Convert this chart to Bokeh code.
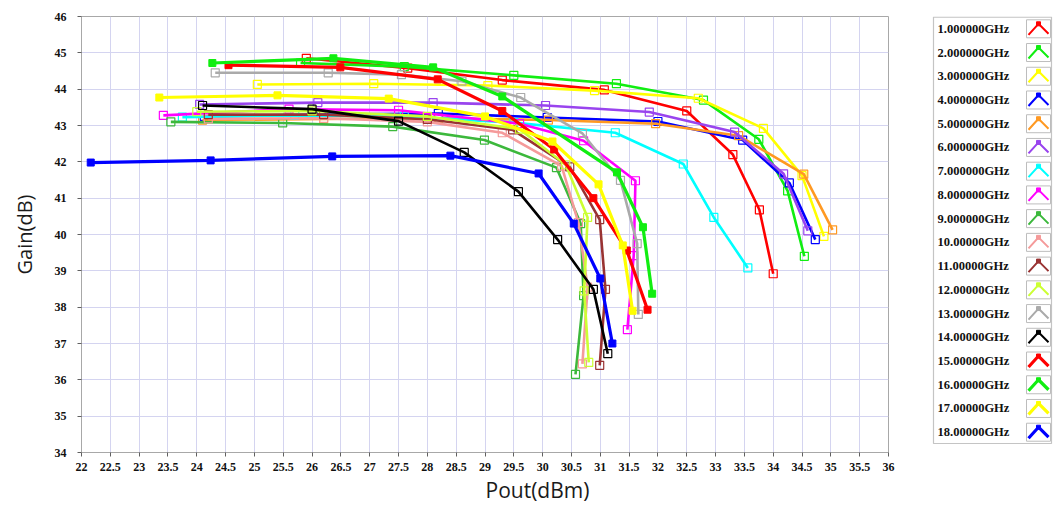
from bokeh.plotting import figure
from bokeh.models import Range1d, FixedTicker, Title
from bokeh.layouts import row
from bokeh.embed import file_html
from bokeh.resources import INLINE
from bokeh.core.properties import value

# ---------------- data ----------------
freq_labels = ["1.000000GHz", "2.000000GHz", "3.000000GHz", "4.000000GHz",
               "5.000000GHz", "6.000000GHz", "7.000000GHz", "8.000000GHz",
               "9.000000GHz", "10.00000GHz", "11.00000GHz", "12.00000GHz",
               "13.00000GHz", "14.00000GHz", "15.00000GHz", "16.00000GHz",
               "17.00000GHz", "18.00000GHz"]

series_colors = ["#ff0000", "#11ee11", "#ffff00", "#0000ff", "#ff9922", "#9944ee",
                 "#00ffff", "#ff00ff", "#3cb83c", "#f59a9a", "#993333", "#ccff33",
                 "#aaaaaa", "#000000", "#ff0000", "#11ee11", "#ffff00", "#0000ff"]

filled_markers = [False] * 14 + [True] * 4

pout_01 = [25.9, 27.66, 29.3, 31.07, 32.5, 33.3, 33.76, 34.0]
gain_01 = [44.85, 44.58, 44.25, 43.98, 43.4, 42.2, 40.68, 38.92]
pout_02 = [25.8, 27.6, 29.5, 31.28, 32.79, 33.75, 34.25, 34.54]
gain_02 = [44.72, 44.62, 44.38, 44.15, 43.7, 42.62, 41.2, 39.4]
pout_03 = [25.05, 27.07, 29.05, 30.9, 32.7, 33.83, 34.5, 34.88]
gain_03 = [44.13, 44.15, 44.1, 43.96, 43.75, 42.92, 41.62, 39.95]
pout_04 = [24.13, 26.16, 28.19, 30.08, 32.0, 33.47, 34.28, 34.73]
gain_04 = [43.25, 43.3, 43.33, 43.22, 43.11, 42.6, 41.42, 39.86]
pout_05 = [24.1, 26.2, 28.2, 30.1, 31.96, 33.4, 34.53, 35.03]
gain_05 = [43.15, 43.18, 43.2, 43.15, 43.05, 42.72, 41.66, 40.13]
pout_06 = [24.05, 26.1, 28.1, 30.05, 31.85, 33.33, 34.18, 34.6]
gain_06 = [43.58, 43.63, 43.63, 43.55, 43.37, 42.82, 41.67, 40.1]
pout_07 = [23.75, 25.7, 27.6, 29.5, 31.26, 32.44, 32.97, 33.56]
gain_07 = [43.23, 43.28, 43.25, 43.08, 42.8, 41.94, 40.47, 39.08]
pout_08 = [23.42, 25.6, 27.5, 29.6, 30.71, 31.61, 31.58, 31.47]
gain_08 = [43.28, 43.45, 43.42, 43.05, 42.58, 41.48, 39.42, 37.38]
pout_09 = [23.55, 25.49, 27.4, 28.99, 30.24, 30.66, 30.71, 30.57]
gain_09 = [43.1, 43.07, 42.97, 42.6, 41.84, 40.3, 38.32, 36.15]
pout_10 = [24.2, 26.2, 28.0, 29.3, 30.33, 30.62, 30.78, 30.69]
gain_10 = [43.18, 43.2, 43.1, 42.8, 41.88, 40.33, 38.55, 36.44]
pout_11 = [24.2, 26.2, 28.0, 29.48, 30.47, 30.99, 31.09, 30.99]
gain_11 = [43.3, 43.3, 43.17, 42.88, 41.86, 40.41, 38.49, 36.4]
pout_12 = [24.0, 26.0, 28.0, 29.6, 30.4, 30.78, 30.72, 30.8]
gain_12 = [43.38, 43.4, 43.25, 42.9, 41.92, 40.47, 38.45, 36.48]
pout_13 = [24.32, 26.28, 27.55, 28.6, 29.62, 30.69, 31.35, 31.64, 31.66]
gain_13 = [44.45, 44.45, 44.4, 44.22, 43.77, 42.78, 41.49, 39.75, 37.8]
pout_14 = [24.1, 26.0, 27.5, 28.64, 29.58, 30.26, 30.88, 31.13]
gain_14 = [43.55, 43.45, 43.12, 42.26, 41.18, 39.86, 38.49, 36.72]
pout_15 = [24.55, 26.49, 28.18, 29.3, 30.2, 30.88, 31.46, 31.82]
gain_15 = [44.66, 44.6, 44.27, 43.4, 42.34, 41.0, 39.56, 37.93]
pout_16 = [24.27, 26.37, 28.1, 29.3, 31.29, 31.74, 31.9]
gain_16 = [44.72, 44.85, 44.6, 43.8, 41.71, 40.2, 38.37]
pout_17 = [23.35, 25.4, 27.33, 29.0, 30.17, 30.97, 31.39, 31.56]
gain_17 = [43.77, 43.83, 43.74, 43.25, 42.56, 41.38, 39.7, 37.9]
pout_18 = [22.16, 24.24, 26.35, 28.4, 29.93, 30.54, 31.0, 31.21]
gain_18 = [41.98, 42.04, 42.15, 42.17, 41.68, 40.3, 38.79, 37.0]

pout_series = [pout_01, pout_02, pout_03, pout_04, pout_05, pout_06, pout_07, pout_08, pout_09,
               pout_10, pout_11, pout_12, pout_13, pout_14, pout_15, pout_16, pout_17, pout_18]
gain_series = [gain_01, gain_02, gain_03, gain_04, gain_05, gain_06, gain_07, gain_08, gain_09,
               gain_10, gain_11, gain_12, gain_13, gain_14, gain_15, gain_16, gain_17, gain_18]

x_ticks = [22, 22.5, 23, 23.5, 24, 24.5, 25, 25.5, 26, 26.5, 27, 27.5, 28, 28.5, 29,
           29.5, 30, 30.5, 31, 31.5, 32, 32.5, 33, 33.5, 34, 34.5, 35, 35.5, 36]
x_tick_labels = ["22", "22.5", "23", "23.5", "24", "24.5", "25", "25.5", "26", "26.5",
                 "27", "27.5", "28", "28.5", "29", "29.5", "30", "30.5", "31", "31.5",
                 "32", "32.5", "33", "33.5", "34", "34.5", "35", "35.5", "36"]
y_ticks = [34, 35, 36, 37, 38, 39, 40, 41, 42, 43, 44, 45, 46]

TICK_FONT = "Liberation Serif"
LABEL_FONT = "Open Sans"
GRID = "#d4d4f0"
FRAME = "#a8a8a8"

# ---------------- layout (pixels) ----------------
MW, H = 920, 506
FL, FT, FR, FB = 81, 16, 888, 452          # frame edges in screen px

# ---------------- main plot ----------------
p = figure(width=MW, height=H, x_range=Range1d(22, 36), y_range=Range1d(34, 46),
           output_backend="svg", toolbar_location=None,
           min_border_left=FL, min_border_right=MW - FR, min_border_top=FT,
           min_border_bottom=H - FB)
p.background_fill_color = "white"
p.border_fill_color = "white"
p.outline_line_color = FRAME

p.xaxis.ticker = FixedTicker(ticks=x_ticks)
p.xaxis.major_label_overrides = {float(t): s for t, s in zip(x_ticks, x_tick_labels)}
p.yaxis.ticker = FixedTicker(ticks=y_ticks)

for ax in (p.xaxis, p.yaxis):
    ax.axis_line_color = FRAME
    ax.major_tick_line_color = "#606060"
    ax.major_tick_out = 4
    ax.major_tick_in = 0
    ax.minor_tick_line_color = None
    ax.major_label_text_font = TICK_FONT
    ax.major_label_text_font_style = "bold"
    ax.major_label_text_font_size = "12px"
    ax.major_label_text_color = "#111111"
    ax.axis_label_text_font = LABEL_FONT
    ax.axis_label_text_font_style = "normal"
    ax.axis_label_text_font_size = "20px"
    ax.axis_label_text_color = "#1a1a1a"

p.yaxis.axis_label = "Gain(dB)"
p.xaxis.major_label_standoff = 6
p.yaxis.major_label_standoff = 11
p.yaxis.axis_label_standoff = 14

# x-axis title sits right of centre in the reference (under 29 .. 31)
x_title = Title(text="Pout(dBm)", align="left", offset=404, standoff=0,
                text_font=LABEL_FONT, text_font_size="21px", text_font_style="normal",
                text_color="#1a1a1a")
p.add_layout(x_title, "below")

p.xgrid.grid_line_color = GRID
p.ygrid.grid_line_color = GRID

for i in range(18):
    c = series_colors[i]
    lw = 3.2 if filled_markers[i] else 2.6
    p.line(pout_series[i], gain_series[i], line_color=c, line_width=lw)
    if filled_markers[i]:
        p.scatter(pout_series[i], gain_series[i], marker="square", size=7,
                  fill_color=c, line_color=c)
    else:
        p.scatter(pout_series[i], gain_series[i], marker="square", size=8,
                  fill_alpha=0, line_color=c, line_width=1.2)

# ---------------- legend panel ----------------
# In a row, the legend's frame is aligned to the main frame (FT..FB), so its
# y range is expressed directly in screen pixels.
LW = 1054 - MW
leg = figure(width=LW, height=H, x_range=Range1d(0, LW), y_range=Range1d(FB, FT),
             output_backend="svg", toolbar_location=None, min_border=0,
             x_axis_location=None, y_axis_location=None)
leg.grid.visible = False
leg.outline_line_color = None
leg.background_fill_color = "white"
leg.border_fill_color = "white"

leg.quad(left=[13], right=[131], top=[16.6], bottom=[443], fill_alpha=0,
         line_color="#c4c4c4", line_width=1.2)

row_y = [28.3 + 23.73 * i for i in range(18)]
leg.text(x=[17] * 18, y=row_y, text=freq_labels, text_font=value(TICK_FONT),
         text_font_style="bold", text_font_size="12.5px", text_baseline="middle",
         text_color="#111111")

sw_l, sw_r = 106, 130
leg.quad(left=[sw_l] * 18, right=[sw_r] * 18, top=[y - 9 for y in row_y],
         bottom=[y + 9 for y in row_y], fill_color="white", line_color="#bdbdbd")
mid = (sw_l + sw_r) / 2
leg.multi_line(xs=[[sw_l + 2, mid, sw_r - 2] for _ in row_y],
               ys=[[y + 6, y - 5, y + 5] for y in row_y],
               line_color=series_colors,
               line_width=[2.0 if not f else 3.2 for f in filled_markers])
leg.scatter(x=[mid] * 18, y=[y - 5 for y in row_y], marker="square", size=4,
            fill_color=series_colors, line_color=series_colors)

layout = row(p, leg)
open("out.html", "w").write(file_html(layout, INLINE))
